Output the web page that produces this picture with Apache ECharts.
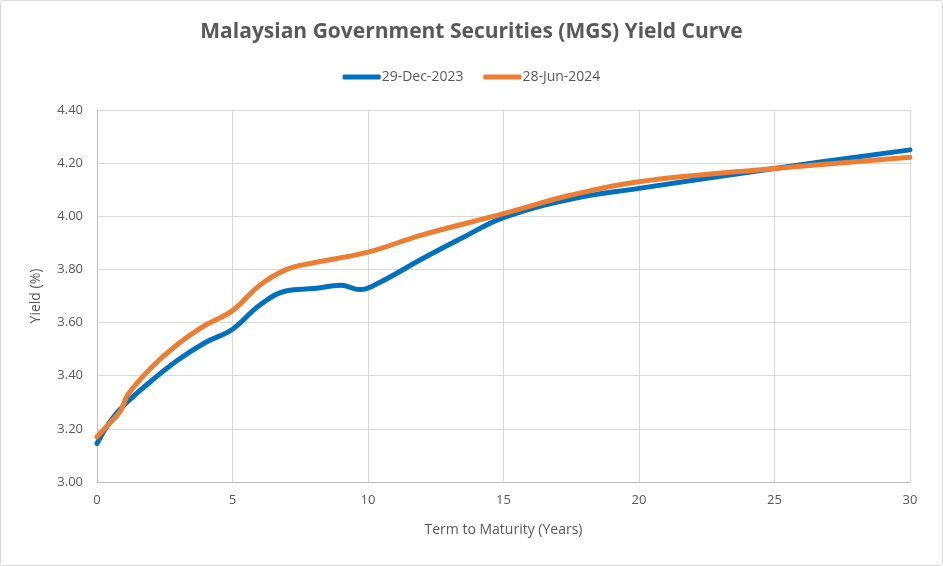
<!DOCTYPE html>
<html>
<head>
<meta charset="utf-8">
<script src="https://cdn.jsdelivr.net/npm/echarts@6/dist/echarts.min.js"></script>
<style>
    html, body { margin: 0; padding: 0; background: #fff; }
    #main { width: 941px; height: 564px; border: 1px solid #d9d9d9; border-radius: 3px; }
</style>
</head>
<body>
<div id="main"></div>
<script>
// series names
const seriesNames = ['29-Dec-2023', '28-Jun-2024'];

// [term (years), yield %]
const dec2023 = [
    [0, 3.145], [0.5, 3.23], [1, 3.29], [2, 3.38], [3, 3.46], [4, 3.525], [5, 3.575],
    [6, 3.665], [7, 3.72], [8, 3.728], [9, 3.74], [9.7, 3.724], [10.5, 3.755],
    [12, 3.84], [13.5, 3.92], [15, 3.995], [17.5, 4.065], [20, 4.105], [25, 4.18], [30, 4.25]
];
const jun2024 = [
    [0, 3.17], [0.5, 3.225], [0.85, 3.265], [1.15, 3.33], [2, 3.43], [3, 3.52], [4, 3.59],
    [5, 3.645], [6, 3.74], [7, 3.80], [8, 3.825], [10, 3.865], [12, 3.93], [15, 4.01],
    [17.5, 4.08], [20, 4.13], [25, 4.18], [30, 4.222]
];

const textColor = '#595959';
const font = '"Open Sans", sans-serif';

const myChart = echarts.init(document.getElementById('main'));

const option = {
    color: ['#0070c0', '#ed7d31'],
    title: {
        text: 'Malaysian Government Securities (MGS) Yield Curve',
        left: 'center',
        top: 16,
        textStyle: { color: textColor, fontSize: 21, fontWeight: 'bold', fontFamily: font }
    },
    legend: {
        top: 64,
        left: 'center',
        itemWidth: 38,
        itemHeight: 5,
        itemGap: 20,
        icon: 'roundRect',
        textStyle: { color: textColor, fontSize: 14, fontFamily: font, padding: [0, 0, 0, -4] },
        data: seriesNames
    },
    grid: { left: 96, right: 32, top: 109, bottom: 83 },
    xAxis: {
        type: 'value',
        min: 0,
        max: 30,
        interval: 5,
        name: 'Term to Maturity (Years)',
        nameLocation: 'middle',
        nameGap: 41,
        nameTextStyle: { color: textColor, fontSize: 14, fontFamily: font },
        axisLine: { show: true, lineStyle: { color: '#bfbfbf' } },
        axisTick: { show: false },
        axisLabel: { color: textColor, fontSize: 13, fontFamily: font, margin: 12 },
        splitLine: { show: true, lineStyle: { color: '#d9d9d9' } }
    },
    yAxis: {
        type: 'value',
        min: 3.0,
        max: 4.4,
        interval: 0.2,
        name: 'Yield (%)',
        nameLocation: 'middle',
        nameGap: 54,
        nameTextStyle: { color: textColor, fontSize: 14, fontFamily: font },
        axisLine: { show: true, lineStyle: { color: '#bfbfbf' } },
        axisTick: { show: false },
        axisLabel: { color: textColor, fontSize: 13, fontFamily: font, margin: 14, formatter: v => v.toFixed(2) },
        splitLine: { lineStyle: { color: '#d9d9d9' } }
    },
    series: [
        {
            name: seriesNames[0],
            type: 'line',
            smooth: 0.4,
            showSymbol: false,
            lineStyle: { width: 5, cap: 'round' },
            data: dec2023
        },
        {
            name: seriesNames[1],
            type: 'line',
            smooth: 0.4,
            showSymbol: false,
            lineStyle: { width: 5, cap: 'round' },
            data: jun2024
        }
    ]
};

option && myChart.setOption(option);
</script>
</body>
</html>
